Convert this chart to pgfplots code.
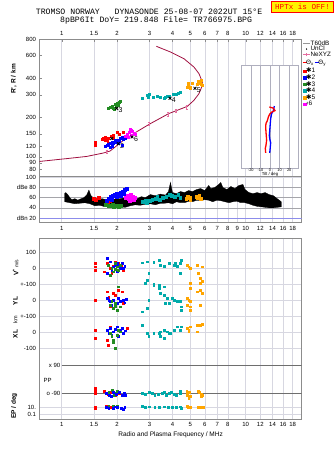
\documentclass[border=0pt]{standalone}
\usepackage{pgfplots}
\pgfplotsset{compat=1.18}
\usepackage{fontspec}
\setmainfont{Liberation Sans}
\newfontfamily\monof{Liberation Mono}
\newfontfamily\djv{DejaVu Sans}
\definecolor{prof}{RGB}{160,16,64}
\definecolor{pinkc}{RGB}{230,110,160}
\definecolor{cred}{RGB}{255,0,0}
\definecolor{cblue}{RGB}{0,0,255}
\definecolor{cgreen}{RGB}{34,139,34}
\definecolor{cteal}{RGB}{0,170,170}
\definecolor{corange}{RGB}{255,165,0}
\definecolor{cmag}{RGB}{255,0,255}
\definecolor{gridc}{RGB}{215,215,225}
\definecolor{framec}{RGB}{140,140,140}
\definecolor{linec}{RGB}{150,150,150}
\definecolor{dgrid}{RGB}{165,165,170}
\definecolor{bline}{RGB}{140,140,235}
\definecolor{dline}{RGB}{110,110,110}
\definecolor{tiltc}{RGB}{175,175,190}
\pgfdeclareplotmark{ibeam}{%
 \pgfpathmoveto{\pgfqpoint{0pt}{-\pgfplotmarksize}}\pgfpathlineto{\pgfqpoint{0pt}{\pgfplotmarksize}}%
 \pgfpathmoveto{\pgfqpoint{-0.6\pgfplotmarksize}{\pgfplotmarksize}}\pgfpathlineto{\pgfqpoint{0.6\pgfplotmarksize}{\pgfplotmarksize}}%
 \pgfpathmoveto{\pgfqpoint{-0.6\pgfplotmarksize}{-\pgfplotmarksize}}\pgfpathlineto{\pgfqpoint{0.6\pgfplotmarksize}{-\pgfplotmarksize}}%
 \pgfusepathqstroke}
\begin{document}
\begin{tikzpicture}
\path[use as bounding box] (0pt,0pt) rectangle (335pt,-451pt);
% titles
\node[anchor=west, font=\monof\fontsize{8.2}{8.2}\selectfont, inner sep=0pt] at (35.7pt,-12pt) {TROMSO NORWAY~~~DYNASONDE 25-08-07 2022UT 15°E};
\node[anchor=west, font=\monof\fontsize{8.2}{8.2}\selectfont, inner sep=0pt] at (60pt,-20.3pt) {8pBP6It DoY= 219.848 File= TR766975.BPG};
\node[draw=red, fill=yellow, text=red, font=\monof\fontsize{7.6}{7.6}\selectfont, inner sep=0pt, minimum width=61.6pt, minimum height=10.6pt, line width=0.8pt] at (302.5pt,-7pt) {HPTx is OFF!};

% ===== top panel =====
\begin{axis}[scale only axis, width=262.2pt, height=136.7pt, at={(39.5pt,-39.3pt)}, anchor=north west,
  xmode=log, ymode=log, xmin=0.757, xmax=20.16, ymin=71.1, ymax=800,
  xminorticks=false, yminorticks=false, axis line style={framec}, tick style={framec},
  tick label style={font=\fontsize{6}{6}\selectfont},
  xtick={1,1.5,2,3,4,5,6,7,8,10,12,14,16,18},
  xticklabels={1,1.5,2,3,4,5,6,7,8,10,12,14,16,18},
  xmajorgrids, grid style={gridc, line width=0.6pt},
  ytick={80,90,100,120,150,200,300,400,600,800},
  yticklabels={80,90,100,120,150,200,300,400,600,800},
  ytick pos=left, xtick pos=right, xticklabel pos=right, major tick length=2.5pt,
  legend style={at={(1.003,0.9927)}, anchor=north west, draw=none, fill=none,
    font=\fontsize{6.3}{6.3}\selectfont, inner sep=0pt, row sep=0pt,
    nodes={inner sep=0.3pt, text height=4.3pt, text depth=0.8pt}},
  legend cell align=left]
\addlegendimage{legend image code/.code={\draw[linec, line width=0.7pt] (0pt,0pt) -- (7pt,0pt);}}
\addlegendentry{T60dB}
\addlegendimage{legend image code/.code={\fill[black] (3.5pt,0pt) circle (0.45pt);}}
\addlegendentry{UnCl}
\addlegendimage{legend image code/.code={\draw[pinkc, line width=0.5pt] (0pt,0pt) -- (7pt,0pt); \draw[pinkc, line width=0.5pt] (3.5pt,-1.6pt) -- (3.5pt,1.6pt);}}
\addlegendentry{NeXYZ}
\addplot[prof, line width=0.8pt, forget plot] coordinates {
 (0.757,92) (1.061,96.7) (1.365,100.5) (1.683,106.8) (1.831,110.6) (1.950,118.7)
 (2.165,133.7) (2.456,150.5) (3.031,179.7) (3.818,214.7) (4.245,227.6) (4.815,244)
 (5.232,271.5) (5.572,305.7) (5.766,343.7) (5.816,375.4) (5.572,435.7) (5.232,489.6)
 (4.613,568.1) (3.901,638.9) (3.269,706.7)};
\addplot[only marks, mark=ibeam, mark size=1.8pt, pinkc, line width=0.6pt, forget plot] coordinates {
 (1.757,109) (2.98,178.6) (3.79,212) (4.18,226) (4.78,240)};
\addplot[only marks, mark=square*, mark size=1pt, cred, forget plot] coordinates {
 (1.516,129.8) (1.516,122.4) (1.683,139.3) (1.719,141.8) (1.757,133.7) (1.792,139.3)
 (1.848,144.3) (1.894,146.1) (1.950,131.3) (1.993,155.0) (2.165,155.0) (1.72,135)
 (1.80,128) (1.90,138) (2.05,150) (1.65,136)};
\addplot[only marks, mark=square*, mark size=1pt, cblue, forget plot] coordinates {
 (1.757,122.4) (1.792,123.9) (1.831,126.1) (1.870,129.8) (1.909,126.1) (1.950,129.8)
 (1.993,133.7) (2.034,126.1) (2.078,137.7) (2.121,141.8) (2.213,139.3) (2.261,146.1)
 (2.121,122.4) (1.870,121.0) (1.831,118.7) (1.95,135) (2.05,132) (2.17,136) (1.72,120)};
\addplot[only marks, mark=square*, mark size=1pt, cgreen, forget plot] coordinates {
 (1.79,236) (1.84,240) (1.88,245) (1.95,252) (2.00,258) (2.05,262) (2.08,266)
 (1.90,238) (1.98,245) (2.03,248) (1.93,233)};
\addplot[only marks, mark=square*, mark size=1pt, cteal, forget plot] coordinates {
 (2.73,280) (2.91,296) (2.95,285) (3.16,288) (3.3,290) (3.44,288) (3.59,282) (3.65,287)
 (3.74,293) (3.85,290) (4.06,305) (4.2,300) (4.42,313) (4.3,308) (3.0,300)};
\addplot[only marks, mark=square*, mark size=1pt, corange, forget plot] coordinates {
 (4.78,340) (4.85,355) (4.9,370) (5.0,345) (5.1,365) (5.0,335) (5.45,360) (5.55,380)
 (5.65,370) (5.75,385) (5.80,355) (5.7,362)};
\addplot[only marks, mark=square*, mark size=1pt, cmag, forget plot] coordinates {
 (2.22,145) (2.28,150) (2.33,155) (2.38,160) (2.42,158) (2.47,152) (2.52,150)
 (2.30,142) (2.40,147) (2.36,162) (2.26,148)};
\addplot[only marks, mark=x, mark size=2pt, black, line width=0.8pt, forget plot] coordinates {
 (1.87,138) (2.03,126) (2.41,142) (1.99,235) (3.88,281.5) (5.30,336)};
\node[anchor=west, font=\fontsize{7}{7}\selectfont, inner sep=0.5pt] at (axis cs:2.06,121) {2};
\node[anchor=west, font=\fontsize{7}{7}\selectfont, inner sep=0.5pt] at (axis cs:2.45,137) {6};
\node[anchor=west, font=\fontsize{7}{7}\selectfont, inner sep=0.5pt] at (axis cs:2.02,227) {3};
\node[anchor=west, font=\fontsize{7}{7}\selectfont, inner sep=0.5pt] at (axis cs:3.94,272) {4};
\node[anchor=west, font=\fontsize{7}{7}\selectfont, inner sep=0.5pt] at (axis cs:5.38,326) {5};
\end{axis}

% Theta legend row
\node[anchor=west, font=\fontsize{6.3}{6.3}\selectfont, inner sep=0pt] at (302.5pt,-63.3pt)
  {{\color{red}\rule[1.8pt]{4pt}{0.6pt}}\kern-0.5pt Θ\textsubscript{x}\,{\color{blue}\rule[1.8pt]{4pt}{0.6pt}}\kern-0.5pt Θ\textsubscript{y}};

% ===== tilt inset =====
\begin{axis}[scale only axis, at={(241.7pt,-65pt)}, anchor=north west, width=56.6pt, height=103pt,
  xmin=-29.5, xmax=29.5, ymode=log, ymin=81.8, ymax=507, ytick=\empty, yminorticks=false,
  axis background/.style={fill=white}, axis line style={tiltc, line width=0.6pt},
  xtick={-20,-10,0,10,20}, xticklabels={-20,-10,0,10,20}, major tick length=0pt,
  xmajorgrids, grid style={tiltc, line width=0.5pt},
  tick label style={font=\fontsize{3.9}{3.9}\selectfont, inner sep=0.3pt},
  xlabel={Tilt / deg}, xlabel style={font=\fontsize{4.3}{4.3}\selectfont, inner sep=0pt, yshift=-0.6pt},
  legend style={at={(1.083,0.975)}, anchor=north west, draw=none, fill=none,
    font=\fontsize{6.5}{6.5}\selectfont, inner sep=0pt, row sep=0pt,
    nodes={inner sep=0.3pt, text height=4.9pt, text depth=1.1pt}},
  legend cell align=left]
\addlegendimage{only marks, mark=square*, mark size=1.3pt, cred}
\addlegendentry{{\djv ✱}1}
\addlegendimage{only marks, mark=square*, mark size=1.3pt, cblue}
\addlegendentry{{\djv ✱}2}
\addlegendimage{only marks, mark=square*, mark size=1.3pt, cgreen}
\addlegendentry{{\djv ✱}3}
\addlegendimage{only marks, mark=square*, mark size=1.3pt, cteal}
\addlegendentry{{\djv ✱}4}
\addlegendimage{only marks, mark=square*, mark size=1.3pt, corange}
\addlegendentry{{\djv ✱}5}
\addlegendimage{only marks, mark=square*, mark size=1.3pt, cmag}
\addlegendentry{{\djv ‹}6}
\addplot[cblue, line width=1.3pt, forget plot] coordinates {
 (4.5,245) (3.5,226) (1.7,214) (0.7,196) (0,169) (-0.7,145) (0,134) (0.7,128) (0,112) (-0.3,107)};
\addplot[cred, line width=1.3pt, forget plot] coordinates {
 (-0.7,241) (3.5,236) (5.2,226) (1.7,220) (0,214) (-1.7,202) (-2.8,189) (-4.2,180)
 (-4.5,169) (-4.2,155) (-3.5,134) (-4.2,122) (-4.9,116) (-4.5,107)};
\end{axis}

% ===== dB panel =====
\begin{axis}[scale only axis, width=262.2pt, height=45.7pt, at={(39.5pt,-176pt)}, anchor=north west,
  xmode=log, xmin=0.757, xmax=20.16, ymin=12.7, ymax=102.6,
  xminorticks=false, yminorticks=false, axis line style={framec}, tick style={framec},
  tick label style={font=\fontsize{6}{6}\selectfont},
  ytick={20,40,60,80,100}, yticklabels={dBn 20,40,60,dBe 80,100},
  xtick={1,1.5,2,3,4,5,6,7,8,9,10,12,14,16,18},
  xticklabels={1,1.5,2,3,4,5,6,7,8,9,10,12,14,16,18},
  ytick pos=left, xtick pos=left, major tick length=0pt,
  xmajorgrids, ymajorgrids, grid style={gridc, line width=0.6pt},
  xticklabel style={yshift=-1.5pt}]
\addplot[dgrid, line width=0.6pt] coordinates {(0.757,40) (20.16,40)};
\addplot[dgrid, line width=0.6pt] coordinates {(0.757,60) (20.16,60)};
\addplot[dgrid, line width=0.6pt] coordinates {(0.757,80) (20.16,80)};
\addplot[bline, line width=0.8pt] coordinates {(0.757,20) (20.16,20)};
\addplot[fill=black, draw=black, line width=0.3pt] coordinates {
 (1.038,68.5) (1.052,70) (1.079,66) (1.106,60) (1.134,56) (1.178,58) (1.223,55) (1.255,57)
 (1.320,60) (1.370,66) (1.405,75) (1.441,64) (1.497,58) (1.574,55) (1.656,58) (1.741,56)
 (1.831,58) (1.950,57) (2.077,58) (2.212,60) (2.356,64) (2.447,60) (2.574,58) (2.707,62)
 (2.847,60) (3.031,66) (3.228,64) (3.439,67) (3.663,65) (3.804,72) (3.901,90) (4.000,70)
 (4.207,68) (4.425,72) (4.653,70) (4.893,74) (5.146,72) (5.413,76) (5.691,78) (5.985,74)
 (6.296,84) (6.457,78) (6.792,80) (7.142,86) (7.324,90) (7.510,80) (7.899,76) (8.308,82)
 (8.738,78) (9.190,84) (9.665,86) (9.913,76) (10.42,70) (10.96,68) (11.53,70) (12.13,68)
 (12.76,70) (13.41,66) (14.11,64) (14.84,58) (15.61,52)
 (15.61,42) (14.84,41) (14.11,40) (13.41,40) (12.76,41) (12.13,42) (11.53,43) (10.96,45)
 (10.42,48) (9.913,50) (9.425,50) (8.962,53) (8.521,52) (8.101,50) (7.702,52) (7.324,54)
 (6.965,55) (6.622,52) (6.296,55) (5.985,56) (5.691,54) (5.413,55) (5.146,52) (4.893,53)
 (4.653,50) (4.425,50) (4.207,52) (4.000,48) (3.804,50) (3.616,49) (3.439,49) (3.228,46)
 (3.031,48) (2.847,47) (2.673,45) (2.510,46) (2.356,44) (2.212,41) (2.077,42) (1.950,41)
 (1.831,43) (1.719,42) (1.614,45) (1.516,44) (1.423,48) (1.336,50) (1.255,49) (1.178,48)
 (1.106,50) (1.038,52)} -- cycle;
\addplot[only marks, mark=square*, mark size=1.5pt, cred] coordinates {(1.50,58) (1.53,56) (1.58,59) (1.78,52) (1.82,55)};
\addplot[only marks, mark=square*, mark size=1.5pt, cblue] coordinates {(1.75,55) (1.8,58) (1.85,62) (1.9,64) (1.95,66) (2.0,68) (2.05,66) (2.1,70) (2.15,72) (2.2,76) (2.25,78) (2.0,62) (2.1,64) (1.88,56) (2.18,68)};
\addplot[only marks, mark=square*, mark size=1.5pt, cgreen] coordinates {(1.74,46) (1.8,44) (1.86,45) (1.92,43) (1.98,44) (2.04,42) (2.1,44) (1.9,47)};
\addplot[only marks, mark=square*, mark size=1.5pt, cmag] coordinates {(2.22,60) (2.28,64) (2.32,58) (2.36,66) (2.42,62) (2.46,56) (2.5,60) (2.35,54) (2.4,58)};
\addplot[only marks, mark=square*, mark size=1.3pt, cteal] coordinates {(2.75,52) (2.9,50) (3.0,54) (3.1,56) (3.25,58) (3.4,56) (3.55,60) (3.7,62) (3.85,66) (3.95,64) (4.1,62) (4.3,66) (4.4,60) (3.3,62) (2.85,55)};
\addplot[only marks, mark=square*, mark size=1.3pt, corange] coordinates {(4.75,58) (4.85,62) (4.95,60) (5.0,56) (5.4,62) (5.5,60) (5.6,64) (5.7,58)};
\end{axis}

% ===== lower panel (V*) =====
\begin{axis}[scale only axis, width=262.2pt, height=180.7pt, at={(39.5pt,-238.3pt)}, anchor=north west,
  xmode=log, xmin=0.757, xmax=20.16, ymin=-941.9, ymax=187.5,
  xminorticks=false, yminorticks=false, axis line style={framec}, tick style={framec},
  tick label style={font=\fontsize{6}{6}\selectfont},
  xtick={1,1.5,2,3,4,5,6,7,8,10,12,14,16,18},
  xticklabels={1,1.5,2,3,4,5,6,7,8,10,12,14,16,18},
  ytick={100,0,-100,-200,-300,-400,-500,-867,-911},
  yticklabels={100,0,+-100,0,+-100,0,-100,10.,0.1},
  ytick pos=left, xtick pos=left, major tick length=0pt,
  xmajorgrids, ymajorgrids, grid style={gridc, line width=0.6pt},
  xlabel={Radio and Plasma Frequency / MHz},
  xlabel style={font=\fontsize{6.5}{6.5}\selectfont, yshift=2pt}]
\addplot[dline, line width=0.7pt] coordinates {(1,-606) (20.16,-606)};
\addplot[dline, line width=0.7pt] coordinates {(1,-781) (20.16,-781)};
\node[anchor=east, font=\fontsize{6}{6}\selectfont, inner sep=0.5pt] at (axis cs:0.99,-606) {x 90};
\node[anchor=east, font=\fontsize{6}{6}\selectfont, inner sep=0.5pt] at (axis cs:0.99,-781) {o -90};
\node[anchor=west, font=\fontsize{6}{6}\selectfont, inner sep=0.5pt] at (axis cs:0.79,-698) {PP};
\addplot[only marks, mark=square*, mark size=0.95pt, cred] coordinates {(1.516,31) (1.516,10) (1.516,-10) (1.757,31) (1.831,0) (1.95,41) (2.034,31) (2.165,-10) (1.70,-21) (1.87,-31) (1.90,15) (2.10,20)};
\addplot[only marks, mark=square*, mark size=0.95pt, cblue] coordinates {(1.757,62) (1.831,41) (1.909,10) (1.993,31) (2.034,21) (2.077,0) (2.121,31) (1.87,-10) (1.993,-21) (1.757,-31) (2.165,0) (1.95,20) (2.2,15)};
\addplot[only marks, mark=square*, mark size=0.95pt, cgreen] coordinates {(1.792,21) (1.87,0) (1.95,31) (1.993,10) (2.034,-10) (1.909,-21) (1.831,-42) (2.077,21) (1.95,-5)};
\addplot[only marks, mark=square*, mark size=0.95pt, cteal] coordinates {(2.73,35) (2.91,41) (3.16,37) (3.37,52) (3.59,14) (3.82,31) (2.97,-31) (2.91,-73) (2.85,-94) (3.16,-98) (3.37,-104) (3.44,21) (3.59,10) (4.08,21) (4.16,31) (4.25,14) (4.42,31) (4.45,52) (4.42,-31)};
\addplot[only marks, mark=square*, mark size=0.95pt, corange] coordinates {(4.81,21) (4.9,10) (5.02,0) (5.47,21) (5.55,-31) (5.69,-63) (5.81,10) (5.69,-94) (5.81,-83) (5.02,-94) (5.02,-125)};
\end{axis}
% YL overlay
\begin{axis}[scale only axis, width=262.2pt, height=180.7pt, at={(39.5pt,-238.3pt)}, anchor=north west,
  xmode=log, xmin=0.757, xmax=20.16, hide axis, ymin=-741.9, ymax=387.5]
\addplot[only marks, mark=square*, mark size=0.95pt, cred] coordinates {(1.516,2) (1.757,54) (1.909,44) (2.034,64) (2.121,54) (1.831,-40) (2.165,-19) (1.80,20) (1.95,30)};
\addplot[only marks, mark=square*, mark size=0.95pt, cblue] coordinates {(1.757,12) (1.831,-8) (1.909,2) (1.993,-19) (2.077,-8) (2.165,2) (2.2,-15) (1.87,-29) (2.034,12) (1.95,-40) (2.25,5) (1.80,0)};
\addplot[only marks, mark=square*, mark size=0.95pt, cgreen] coordinates {(1.831,-29) (1.909,-50) (1.95,-19) (1.993,-60) (2.034,85) (2.077,-40) (1.87,-8) (1.95,-35)};
\addplot[only marks, mark=square*, mark size=0.95pt, cteal] coordinates {(2.73,-71) (2.91,-50) (2.97,2) (3.16,96) (3.37,75) (3.59,85) (3.66,-19) (3.82,-19) (3.44,44) (3.59,33) (3.73,12) (4.0,12) (4.08,2) (4.25,-8) (4.42,-8) (4.45,-40) (4.45,-60)};
\addplot[only marks, mark=square*, mark size=0.95pt, corange] coordinates {(4.81,12) (4.9,2) (5.02,-8) (4.81,-29) (5.02,-60) (5.47,54) (5.69,65) (5.81,44) (5.69,-29) (5.02,-40)};
\end{axis}
% XL overlay
\begin{axis}[scale only axis, width=262.2pt, height=180.7pt, at={(39.5pt,-238.3pt)}, anchor=north west,
  xmode=log, xmin=0.757, xmax=20.16, hide axis, ymin=-541.9, ymax=587.5]
\addplot[only marks, mark=square*, mark size=0.95pt, cred] coordinates {(1.516,14) (1.516,-38) (1.757,-48) (1.78,-79) (1.831,35) (2.26,25) (1.909,4) (2.0,-20)};
\addplot[only marks, mark=square*, mark size=0.95pt, cblue] coordinates {(1.757,14) (1.831,25) (1.909,4) (1.993,35) (2.077,14) (2.12,25) (2.165,-6) (1.87,-17) (2.034,-27) (1.80,-6) (2.22,10) (1.95,20)};
\addplot[only marks, mark=square*, mark size=0.95pt, cgreen] coordinates {(1.831,-6) (1.87,-27) (1.909,-48) (1.95,-100) (1.993,-17) (2.034,14) (2.077,4) (1.9,-60)};
\addplot[only marks, mark=square*, mark size=0.95pt, cteal] coordinates {(2.73,46) (2.91,-6) (2.97,-27) (3.16,-6) (3.37,-6) (3.59,-38) (3.73,4) (3.44,4) (3.59,14) (3.82,-6) (3.90,-6) (4.08,14) (4.25,35) (4.42,14) (4.45,35) (3.44,-27)};
\addplot[only marks, mark=square*, mark size=0.95pt, corange] coordinates {(4.81,25) (4.9,14) (5.02,35) (5.47,46) (5.69,46) (5.81,52) (5.47,4) (4.9,4)};
\end{axis}
% EP overlay
\begin{axis}[scale only axis, width=262.2pt, height=180.7pt, at={(39.5pt,-238.3pt)}, anchor=north west,
  xmode=log, xmin=0.757, xmax=20.16, hide axis, ymin=-255.2, ymax=906.4]
\addplot[only marks, mark=square*, mark size=0.95pt, cred] coordinates {(1.516,-60) (1.516,-75) (1.516,-90) (1.70,-75) (1.78,-95) (1.85,-80) (1.95,-105) (2.05,-90)
 (1.516,-178) (1.516,-185) (1.75,-175) (1.85,-180)};
\addplot[only marks, mark=square*, mark size=0.95pt, cgreen] coordinates {(1.80,-85) (1.88,-70) (1.95,-90) (2.0,-75) (1.92,-100) (1.8,-172) (1.9,-175) (2.0,-172)};
\addplot[only marks, mark=square*, mark size=0.95pt, cblue] coordinates {(1.75,-90) (1.82,-100) (1.9,-85) (1.98,-95) (2.05,-80) (2.12,-100) (2.18,-90) (2.22,-105) (1.86,-110)
 (1.75,-180) (1.8,-185) (1.9,-188) (2.0,-182) (2.1,-185) (2.2,-180) (1.95,-176) (2.15,-190)};
\addplot[only marks, mark=square*, mark size=0.95pt, cteal] coordinates {(2.73,-90) (2.85,-95) (3.0,-85) (3.1,-90) (3.2,-100) (3.35,-95) (3.5,-90) (3.6,-85) (3.7,-105) (3.85,-90) (3.95,-80) (4.1,-95) (4.2,-100) (4.4,-90) (4.42,-75)
 (2.73,-175) (2.85,-178) (3.0,-176) (3.2,-178) (3.4,-180) (3.6,-176) (3.8,-180) (4.0,-178) (4.2,-182) (4.4,-176) (4.45,-184)};
\addplot[only marks, mark=square*, mark size=0.95pt, corange] coordinates {(4.78,-75) (4.8,-90) (4.82,-105) (4.9,-120) (4.95,-80) (5.0,-110) (5.5,-75) (5.6,-80) (5.7,-95) (5.75,-110) (5.8,-100)
 (4.8,-172) (4.85,-180) (5.0,-178) (5.5,-178) (5.6,-176) (5.75,-180) (5.85,-178)};
\end{axis}

% left axis titles
\node[rotate=90, font=\bfseries\fontsize{6.5}{6.5}\selectfont] at (13.7pt,-79pt) {R', R / km};
\node[rotate=90, font=\bfseries\fontsize{6.5}{6.5}\selectfont, anchor=west] at (15.5pt,-279pt) {V\textsuperscript{*}\,{\mdseries\fontsize{5}{5}\selectfont m/s}};
\node[rotate=90, font=\bfseries\fontsize{6.5}{6.5}\selectfont] at (15.5pt,-301pt) {YL};
\node[rotate=90, font=\fontsize{5.5}{5.5}\selectfont] at (15.5pt,-320pt) {km};
\node[rotate=90, font=\bfseries\fontsize{6.5}{6.5}\selectfont] at (15.5pt,-334pt) {XL};
\node[rotate=90, font=\bfseries\fontsize{6.5}{6.5}\selectfont] at (14.2pt,-406pt) {EP / deg};
\end{tikzpicture}
\end{document}
